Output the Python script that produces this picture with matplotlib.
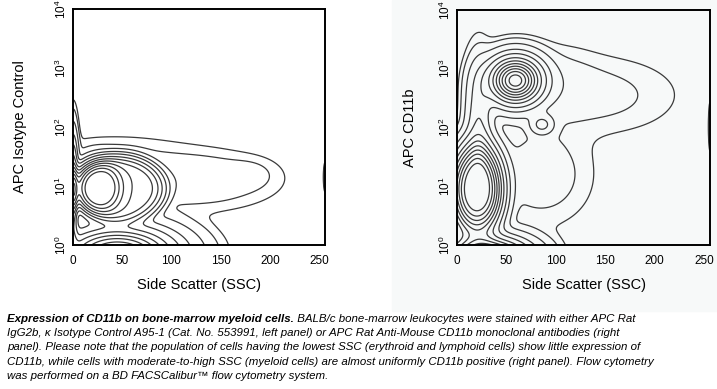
import numpy as np
import matplotlib
matplotlib.use("Agg")
import matplotlib.pyplot as plt
from matplotlib.patches import Rectangle

plt.rcParams['font.family'] = ['Liberation Sans', 'DejaVu Sans']

# ---- data: cell populations (SSC channel, log10 fluorescence) ----
# centre x, centre y (log10), spread x, spread y, relative weight, profile exponent
left_cx = [26, 45, 45, 0, 125, 180, 40, 256]
left_cy = [0.97, 0.95, -0.15, 0.9, 1.1, 1.2, 1.55, 1.15]
left_sx = [18, 42, 35, 3, 45, 15, 45, 0.8]
left_sy = [0.33, 0.5, 0.28, 0.5, 0.28, 0.15, 0.2, 0.12]
left_w = [0.45, 0.5, 0.8, 0.5, 0.025, 0.008, 0.01, 0.03]
left_p = [3, 6, 2, 2, 2, 2, 2, 2]

right_cx = [20, 59, 30, 22, 140, 85, 86, 100, 256]
right_cy = [0.95, 2.8, -0.2, 2.0, 2.55, 1.2, 2.05, 2.8, 2.0]
right_sx = [19.6, 16, 25, 8, 50, 30, 7, 25, 0.8]
right_sy = [0.57, 0.24, 0.2, 0.6, 0.4, 0.5, 0.1, 0.35, 0.2]
right_w = [1.0, 0.95, 0.9, 0.15, 0.015, 0.02, 0.1, 0.012, 0.03]
right_p = [3, 2, 2, 2, 2, 2, 2, 2, 2]

level_fracs = [0.004, 0.01, 0.03, 0.08, 0.15, 0.25, 0.35, 0.45, 0.55, 0.65, 0.75, 0.85]

x_ticks = [0, 50, 100, 150, 200, 250]
y_ticks = [0, 1, 2, 3, 4]
y_ticklabels = [r'$\mathregular{10^{%d}}$' % k for k in y_ticks]
y_labels = ['APC Isotype Control', 'APC CD11b']
x_label = 'Side Scatter (SSC)'

caption_bold = 'Expression of CD11b on bone-marrow myeloid cells.'
caption_lines = [
    ' BALB/c bone-marrow leukocytes were stained with either APC Rat',
    'IgG2b, \u03ba Isotype Control A95-1 (Cat. No. 553991, left panel) or APC Rat Anti-Mouse CD11b monoclonal antibodies (right',
    'panel). Please note that the population of cells having the lowest SSC (erythroid and lymphoid cells) show little expression of',
    'CD11b, while cells with moderate-to-high SSC (myeloid cells) are almost uniformly CD11b positive (right panel). Flow cytometry',
    'was performed on a BD FACSCalibur\u2122 flow cytometry system.',
]

fig = plt.figure(figsize=(7.17, 3.89), dpi=100)
fig.patches.append(Rectangle((392/717, 1-311/389), 1-392/717, 311/389,
                             transform=fig.transFigure, color='#f7f9f9', zorder=-10))

gx = np.linspace(0, 256, 520)
gy = np.linspace(-1.0, 4.2, 520)
X, Y = np.meshgrid(gx, gy)

def density(cx, cy, sx, sy, w, p):
    Z = np.zeros_like(X)
    for a, b, c, d, e, q in zip(cx, cy, sx, sy, w, p):
        r2 = ((X - a) / c) ** 2 + ((Y - b) / d) ** 2
        Z += e * np.exp(-0.5 * r2 ** (q / 2.0))
    return Z

W, H = 717, 389
boxes = [(73, 9, 325, 245), (457, 10, 710, 245)]
params = [(left_cx, left_cy, left_sx, left_sy, left_w, left_p),
          (right_cx, right_cy, right_sx, right_sy, right_w, right_p)]
labelpads = [19, 15]

for i, (box, prm) in enumerate(zip(boxes, params)):
    x0, y0, x1, y1 = box
    ax = fig.add_axes([x0/W, 1-y1/H, (x1-x0)/W, (y1-y0)/H])
    ax.set_facecolor('none')
    Z = density(*prm)
    zmax = Z[(Y >= 0)].max()
    levels = [f * zmax for f in level_fracs]
    ax.contour(X, Y, Z, levels=levels, colors='#3a3a3a', linewidths=0.9)
    ax.set_xlim(0, 256)
    ax.set_ylim(0, 4)
    ax.set_xticks(x_ticks)
    ax.set_xticklabels([str(t) for t in x_ticks], fontsize=8.5)
    ax.tick_params(axis='x', length=0, pad=7)
    ax.set_yticks(y_ticks)
    ax.set_yticklabels(y_ticklabels, fontsize=8.5, rotation=90, va='center')
    ax.tick_params(axis='y', length=0, pad=3)
    for s in ax.spines.values():
        s.set_linewidth(1.4)
        s.set_color('black')
    ax.set_xlabel(x_label, fontsize=10.5, labelpad=8)
    ax.set_ylabel(y_labels[i], fontsize=10.5, labelpad=labelpads[i])

# caption
fs = 8.25
y_lines = [319, 333, 347, 362, 376]
t = fig.text(7/W, 1-y_lines[0]/H, caption_bold, fontsize=fs, style='italic',
             fontweight='bold', va='center', ha='left')
fig.canvas.draw()
bb = t.get_window_extent()
fig.text(bb.x1/fig.dpi/7.17, 1-y_lines[0]/H, caption_lines[0], fontsize=fs,
         style='italic', va='center', ha='left')
for yl, line in zip(y_lines[1:], caption_lines[1:]):
    fig.text(7/W, 1-yl/H, line, fontsize=fs, style='italic', va='center', ha='left')

fig.savefig('out.png', dpi=100)
